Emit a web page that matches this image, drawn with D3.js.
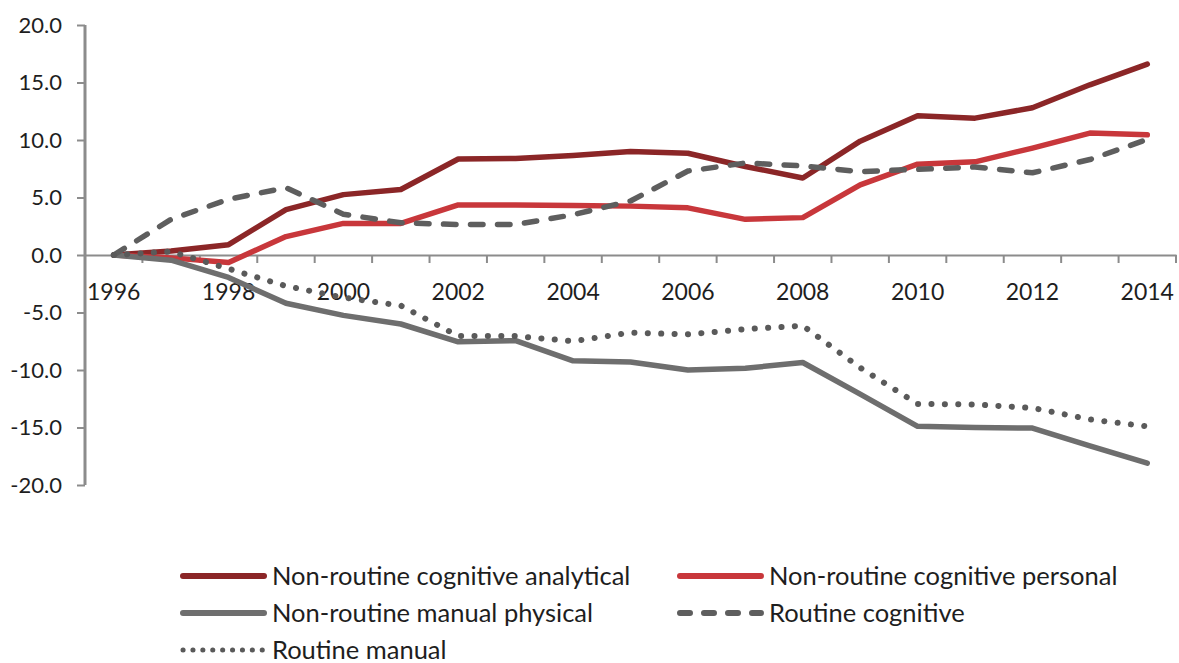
<!DOCTYPE html>
<html>
<head>
<meta charset="utf-8">
<script src="https://cdn.jsdelivr.net/npm/d3@7"></script>
<style>
  html, body { margin: 0; padding: 0; background: #fff; }
  svg text { font-family: Lato, "Open Sans", sans-serif; fill: #1e1e1e; }
</style>
</head>
<body>
<svg id="chart" width="1179" height="663"></svg>
<script>
const years = ["1996","1997","1998","1999","2000","2001","2002","2003","2004","2005","2006","2007","2008","2009","2010","2011","2012","2013","2014"];
const yearLabels = ["1996","1998","2000","2002","2004","2006","2008","2010","2012","2014"];
const yTicks = [-20, -15, -10, -5, 0, 5, 10, 15, 20];

const seriesNames = [
  "Non-routine cognitive analytical",
  "Non-routine cognitive personal",
  "Non-routine manual physical",
  "Routine cognitive",
  "Routine manual"
];
const analytical = [0, 0.35, 0.9, 3.95, 5.25, 5.7, 8.35, 8.4, 8.65, 9.0, 8.85, 7.7, 6.7, 9.9, 12.1, 11.9, 12.8, 14.8, 16.6];
const personal   = [0, -0.25, -0.65, 1.6, 2.75, 2.75, 4.35, 4.35, 4.3, 4.25, 4.1, 3.1, 3.25, 6.1, 7.9, 8.1, 9.3, 10.6, 10.45];
const manualPhys = [0, -0.45, -1.95, -4.2, -5.25, -6.0, -7.55, -7.45, -9.2, -9.3, -10.0, -9.85, -9.35, -12.1, -14.9, -15.0, -15.05, -16.6, -18.1];
const routineCog = [0, 3.1, 4.85, 5.85, 3.55, 2.8, 2.65, 2.65, 3.5, 4.7, 7.3, 8.0, 7.75, 7.25, 7.45, 7.65, 7.15, 8.3, 10.05];
const routineMan = [0, 0.3, -1.2, -2.7, -3.7, -4.4, -7.05, -7.05, -7.5, -6.75, -6.9, -6.45, -6.15, -9.8, -12.95, -13.0, -13.3, -14.3, -14.9];

const seriesValues = [analytical, personal, manualPhys, routineCog, routineMan];
const seriesColors = ["#8b2627", "#c8373b", "#6e6e6e", "#5e5e5e", "#5a5a5a"];
const seriesDash = [null, null, null, "12.5,14.5", "0.1,13.3"];
const legendDash = [null, null, null, "10,14", "0.1,9.8"];

const svg = d3.select("#chart");
const x = d3.scaleBand().domain(years).range([85, 1176]).padding(0);
const y = d3.scaleLinear().domain([-20, 20]).range([485, 25]);
const cx = d => x(d) + x.bandwidth() / 2;

// Y axis
const yAxis = svg.append("g").attr("transform", "translate(85,0)")
  .call(d3.axisLeft(y).tickValues(yTicks).tickSize(8).tickPadding(15).tickFormat(d => d.toFixed(1)));
yAxis.select(".domain").attr("stroke", "#8c8c8c").attr("stroke-width", 3)
  .attr("d", `M0,${y(20)}H0V${y(-20)}`);
yAxis.selectAll(".tick line").attr("stroke", "#8c8c8c").attr("stroke-width", 2);
yAxis.selectAll(".tick text").attr("font-size", 22).attr("fill", "#1e1e1e")
  .style("font-family", "Lato, sans-serif");

// X axis (category axis at zero)
const xAxis = svg.append("g").attr("transform", `translate(0,${y(0)})`)
  .call(d3.axisBottom(x).tickValues(yearLabels).tickSize(0).tickPadding(0));
xAxis.select(".domain").attr("stroke", "#8c8c8c").attr("stroke-width", 2);
xAxis.selectAll(".tick text").attr("font-size", 23).attr("fill", "#1e1e1e")
  .attr("y", 45).attr("dy", 0)
  .style("font-family", "Lato, sans-serif");
const boundaries = years.slice(1).map(d => x(d)).concat([x.range()[1]]);
xAxis.selectAll(".bound").data(boundaries).enter().append("line")
  .attr("class", "bound")
  .attr("x1", d => d).attr("x2", d => d)
  .attr("y1", 0).attr("y2", 8)
  .attr("stroke", "#8c8c8c").attr("stroke-width", 2);

// Lines
const line = d3.line().x((d, i) => cx(years[i])).y(d => y(d));
seriesValues.forEach((vals, i) => {
  svg.append("path")
    .datum(vals)
    .attr("d", line)
    .attr("fill", "none")
    .attr("stroke", seriesColors[i])
    .attr("stroke-width", i === 4 ? 6 : 5.5)
    .attr("stroke-linecap", "round")
    .attr("stroke-linejoin", "round")
    .attr("stroke-dasharray", seriesDash[i]);
});

// Legend
const legendPos = [
  {x: 183, y: 576}, {x: 680, y: 576},
  {x: 183, y: 613}, {x: 680, y: 613},
  {x: 183, y: 650}
];
const legend = svg.append("g");
seriesNames.forEach((name, i) => {
  const p = legendPos[i];
  const g = legend.append("g").attr("transform", `translate(${p.x},${p.y})`);
  g.append("line").attr("x1", 0).attr("x2", 81).attr("y1", 0).attr("y2", 0)
    .attr("stroke", seriesColors[i]).attr("stroke-width", i === 4 ? 5 : 6)
    .attr("stroke-linecap", "round")
    .attr("stroke-dasharray", legendDash[i]);
  g.append("text").attr("x", 89).attr("y", 0).attr("dy", "0.35em")
    .attr("font-size", 25.5).text(name);
});
</script>
</body>
</html>
